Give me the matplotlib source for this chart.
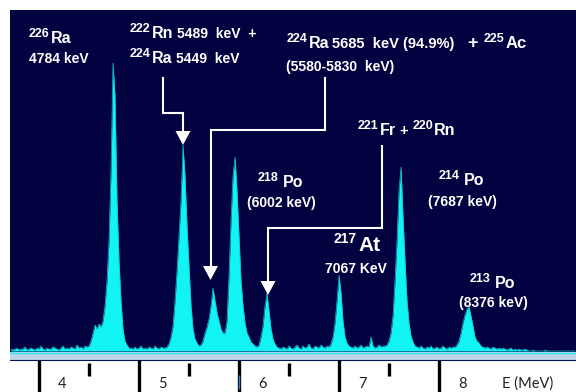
import numpy as np
import matplotlib.pyplot as plt

# alpha spectrum, one value per 0.02 MeV channel, first channel at 3.72 MeV
e_start = 3.72
e_step = 0.02
counts = [
    # 3.72 - 4.48 MeV, background
    2, 1, 2, 3, 1, 2, 2, 4, 1, 2, 3, 2, 1, 3, 2, 5, 2, 1, 3, 2,
    2, 4, 3, 2, 1, 3, 5, 2, 3, 2, 4, 3, 2, 6, 3, 4, 2, 5, 4,
    # 226Ra
    5, 10, 18, 26, 22, 27, 24, 30, 45, 70, 110, 180, 288, 255, 150, 90,
    50, 22, 10, 6, 3,
    # background
    3, 2, 4, 2, 3, 5, 2, 3, 2, 4, 3, 2, 5, 3, 2, 4, 3, 3,
    # 222Rn + 224Ra
    4, 7, 14, 25, 50, 80, 115, 150, 206, 175, 125, 85, 45, 22, 12, 8, 5,
    6, 10,
    # 224Ra 5685 + 225Ac
    18, 24, 32, 45, 63, 50, 38, 30, 22, 18, 18,
    # 218Po
    30, 75, 130, 175, 194, 160, 115, 70, 45, 28, 18, 14, 9, 7, 5, 4,
    # 221Fr + 220Rn
    6, 14, 25, 45, 58, 40, 22, 12, 7, 4,
    # background
    3, 2, 4, 3, 2, 5, 3, 2, 4, 6, 3, 2, 5, 3, 4, 7, 3, 2, 5, 4, 3, 6, 4,
    3, 5,
    # 217At
    4, 7, 14, 28, 50, 76, 58, 30, 14, 8, 5,
    # background
    4, 3, 5, 3, 4, 6, 3, 4, 5, 4, 14, 5, 3, 4, 6, 4, 5, 5,
    # 214Po
    6, 10, 18, 35, 70, 110, 160, 184, 135, 90, 50, 28, 15, 9, 5,
    # background
    4, 3, 5, 3, 2, 4, 3, 5, 2, 3, 4, 2, 3, 5, 3, 2, 4, 3, 4,
    # 213Po
    4, 6, 10, 18, 28, 36, 42, 44, 35, 25, 14, 10, 8, 5, 4,
    # tail
    3, 4, 3, 2, 4, 3, 2, 3, 2, 3, 2, 1, 2, 3, 1, 2, 1, 2, 1, 1, 2, 1,
    0, 0, 1, 0, 0, 0, 0, 0, 1, 0, 0, 0, 0, 0, 0, 0, 0, 0, 0, 0, 0, 0, 0, 0,
]

major_ticks = [4, 5, 6, 7, 8]
minor_ticks = [4.5, 5.5, 6.5, 7.5]
x_label = 'E (MeV)'

energy = e_start + e_step * np.arange(len(counts))

W, H = 576, 392
fig = plt.figure(figsize=(W / 100, H / 100), dpi=100)
fig.patch.set_facecolor('white')

navy = '#020240'
cyan = '#12f4f4'

# spectrum panel
ax = fig.add_axes([10 / W, 40 / H, 566 / W, 342 / H])
ax.set_facecolor(navy)
ax.fill_between(energy, counts, 0, color=cyan, lw=0)
ax.plot(energy, counts, color='#0bc4d4', lw=0.5)
ax.set_xlim(3.71, 9.37)
ax.set_ylim(-1, 341)
ax.set_xticks([])
ax.set_yticks([])
for s in ax.spines.values():
    s.set_visible(False)

# energy scale strip below (y in image pixels)
axb = fig.add_axes([10 / W, 0, 566 / W, 40 / H])
axb.set_xlim(3.71, 9.37)
axb.set_ylim(392, 352)
axb.axis('off')
axb.axhspan(352, 360, color='#bdd4eb', lw=0)
axb.axhline(352.6, color='#2ee8f0', lw=1.0)
axb.axhline(359.6, color='#0a1450', lw=0.8)
axb.vlines(major_ticks, 360, 392, color='black', lw=2.4)
axb.vlines(minor_ticks, 363, 376, color='black', lw=2.4)
axb.vlines([6.0], 375, 389, color='#3a7fd0', lw=1.0)
for v in major_ticks:
    axb.text(v + 0.23, 388, str(v), ha='center', va='baseline',
             fontsize=10.5, family='Lato', color='#222222')
axb.text(8.89, 388, x_label, ha='center', va='baseline',
         fontsize=10.5, family='Lato', color='#222222')

# overlay in image pixel coordinates for labels and arrows
ov = fig.add_axes([0, 0, 1, 1])
ov.set_xlim(0, W)
ov.set_ylim(H, 0)
ov.axis('off')
ov.patch.set_alpha(0)

renderer = fig.canvas.get_renderer()


def rich(x, y, parts):
    for p in parts:
        if isinstance(p, (int, float)):
            x += p
            continue
        s, size, rise = p
        t = ov.text(x, y - rise, s, fontsize=size, color='white',
                    fontweight='bold', family='Liberation Sans',
                    ha='left', va='baseline')
        x += t.get_window_extent(renderer).width


sup = 9
elt = 11.5
num = 10

rich(29, 43, [('226', sup, 6), 1, ('Ra', elt, 0)])
rich(29, 63, [('4784 keV', num, 0)])
rich(130, 38, [('222', sup, 6), 1, ('Rn', elt, 0), 4, ('5489  keV  +', num, 0)])
rich(130, 63, [('224', sup, 6), 1, ('Ra', elt, 0), 3, ('5449  keV', num, 0)])
rich(287, 48, [('224', sup, 6), 1, ('Ra', elt, 0), 3, ('5685  keV (94.9%)', 10.5, 0),
               12, ('+', 13, 0), 6, ('225', sup, 6), 1, ('Ac', 12, 0)])
rich(286, 71, [('(5580-5830  keV)', num, 0)])
rich(358, 135, [('221', sup, 6), 1, ('Fr', elt, 0), 4, ('+', 10.5, 0), 4,
                ('220', sup, 6), 1, ('Rn', elt, 0)])
rich(258, 187, [('218', sup, 6), 4, ('Po', elt, 0)])
rich(247, 207, [('(6002 keV)', num, 0)])
rich(439, 185, [('214', sup, 6), 4, ('Po', elt, 0)])
rich(428, 206, [('(7687 keV)', num, 0)])
rich(334, 251, [('217', 10, 8), 1, ('At', 15, 0)])
rich(325, 273, [('7067 KeV', num, 0)])
rich(470, 288, [('213', sup, 6), 4, ('Po', elt, 0)])
rich(459, 307, [('(8376 keV)', num, 0)])

# pointer lines with arrow heads
paths = [
    ([163, 163, 183, 183], [78, 113, 113, 131]),
    ([325, 325, 210.5, 210.5], [78, 130, 130, 266]),
    ([382, 382, 268, 268], [146, 228, 228, 281]),
]
for xs, ys in paths:
    ov.plot(xs, ys, color='white', lw=1.5, solid_joinstyle='miter')
    tx, ty = xs[-1], ys[-1]
    ov.fill([tx - 7.5, tx + 7.5, tx], [ty, ty, ty + 14], color='white', lw=0)

fig.savefig('out.png', dpi=100)
